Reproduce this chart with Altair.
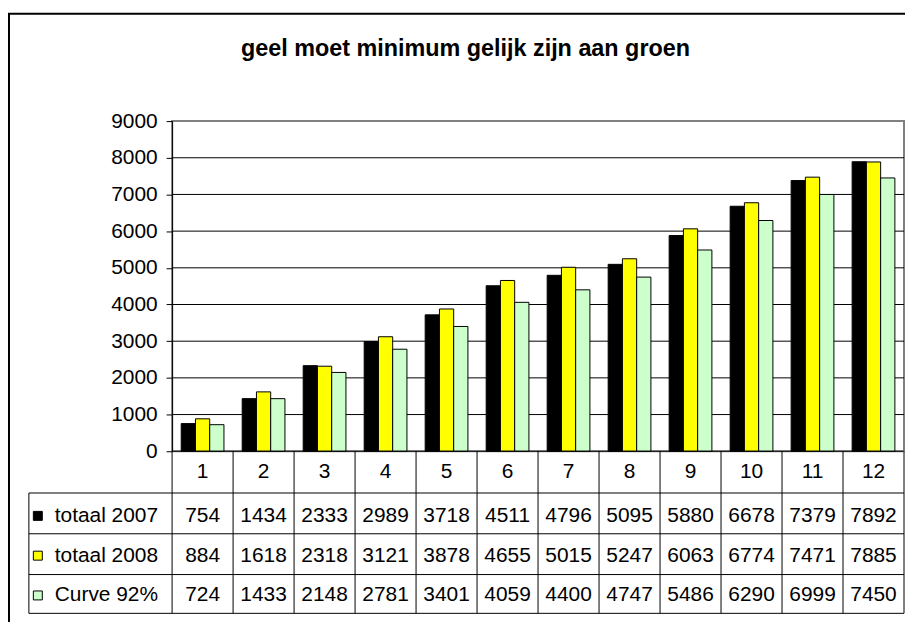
import altair as alt
import pandas as pd

# ---- data ----
categories = [1, 2, 3, 4, 5, 6, 7, 8, 9, 10, 11, 12]
series_names = ["totaal 2007", "totaal 2008", "Curve 92%"]
totaal_2007 = [754, 1434, 2333, 2989, 3718, 4511, 4796, 5095, 5880, 6678, 7379, 7892]
totaal_2008 = [884, 1618, 2318, 3121, 3878, 4655, 5015, 5247, 6063, 6774, 7471, 7885]
curve_92 = [724, 1433, 2148, 2781, 3401, 4059, 4400, 4747, 5486, 6290, 6999, 7450]
series_colors = ["#000000", "#FFFF00", "#CCFFCC"]
y_ticks = [0, 1000, 2000, 3000, 4000, 5000, 6000, 7000, 8000, 9000]
grid_values = [1000, 2000, 3000, 4000, 5000, 6000, 7000, 8000]
title_text = "geel moet minimum gelijk zijn aan groen"

values_by_series = [totaal_2007, totaal_2008, curve_92]
rows = []
for s, vals in zip(series_names, values_by_series):
    for c, v in zip(categories, vals):
        rows.append({"cat": c, "series": s, "value": v})
df = pd.DataFrame(rows)
cat_df = pd.DataFrame({"cat": categories})
grid_df = pd.DataFrame({"value": grid_values})
one = pd.DataFrame({"a": [0]})

FONT = "Liberation Sans"
W, H = 736, 332

xscale = alt.Scale(domain=categories, paddingInner=0, paddingOuter=0)
yscale = alt.Scale(domain=[0, 9000], nice=False, zero=True)
yaxis = alt.Axis(values=y_ticks, title=None, grid=False, format="d", labelFont=FONT,
                 labelFontSize=21, labelColor="black", labelPadding=9,
                 tickColor="black", tickSize=6, domainColor="black",
                 domainWidth=1, labelFlush=False, labelOverlap=False)
Y = alt.Y("value:Q", scale=yscale, axis=yaxis)
X = alt.X("cat:O", scale=xscale, axis=None)

frame = alt.Chart(one).mark_rect(filled=False, stroke="black", strokeWidth=2).encode(
    x=alt.value(-164), x2=alt.value(780), y=alt.value(-108), y2=alt.value(600)
)

title = alt.Chart(one).mark_text(
    text=title_text, font=FONT, fontSize=23.5, fontWeight="bold", color="black",
    align="center", baseline="alphabetic"
).encode(x=alt.value(295), y=alt.value(-65))

grid = alt.Chart(grid_df).mark_rule(color="black", strokeWidth=1).encode(y=Y)

bars = alt.Chart(df).mark_bar(stroke="black", strokeWidth=1).encode(
    x=X,
    xOffset=alt.XOffset("series:N", sort=series_names,
                        scale=alt.Scale(domain=series_names, paddingOuter=0.64, paddingInner=0)),
    y=Y,
    color=alt.Color("series:N", sort=series_names,
                    scale=alt.Scale(domain=series_names, range=series_colors), legend=None),
)

zero_line = alt.Chart(one).mark_rule(color="black", strokeWidth=1).encode(
    x=alt.value(0), x2=alt.value(W), y=alt.value(H)
)

vlines = alt.Chart(cat_df).mark_rule(color="black", strokeWidth=1).encode(
    x=alt.X("cat:O", scale=xscale, axis=None, bandPosition=0),
    y=alt.value(H), y2=alt.value(495),
)
right_line = alt.Chart(one).mark_rule(color="#555555", strokeWidth=1.5).encode(
    x=alt.value(W), y=alt.value(H), y2=alt.value(495)
)
left_line = alt.Chart(one).mark_rule(color="black", strokeWidth=1).encode(
    x=alt.value(-144), y=alt.value(374), y2=alt.value(495)
)

hlines = []
for yy in [374, 415, 456, 495]:
    hlines.append(alt.Chart(one).mark_rule(color="black", strokeWidth=1).encode(
        x=alt.value(-144), x2=alt.value(W), y=alt.value(yy)))

header = alt.Chart(cat_df).mark_text(font=FONT, fontSize=21, color="black",
                                     baseline="middle").encode(
    x=X, y=alt.value(353), text="cat:O"
)

row_layers = []
row_y = [397, 437, 477]
for i, s in enumerate(series_names):
    row_layers.append(
        alt.Chart(df).transform_filter(alt.datum.series == s).mark_text(
            font=FONT, fontSize=21, color="black", baseline="middle"
        ).encode(x=X, y=alt.value(row_y[i]), text="value:Q")
    )
    row_layers.append(
        alt.Chart(one).mark_text(text=s, font=FONT, fontSize=21, color="black",
                                 align="left", baseline="middle").encode(
            x=alt.value(-118), y=alt.value(row_y[i]))
    )
    row_layers.append(
        alt.Chart(one).mark_square(size=81, color=series_colors[i], stroke="black",
                                   strokeWidth=1, opacity=1, filled=True).encode(
            x=alt.value(-135), y=alt.value(row_y[i]))
    )

chart = alt.layer(
    frame, title, grid, bars, zero_line, vlines, right_line, left_line,
    *hlines, header, *row_layers
).properties(
    width=W, height=H,
    padding={"left": 165, "top": 112, "right": 1, "bottom": 170},
    autosize=alt.AutoSizeParams(type="none"),
    background="white",
).configure_view(stroke="#808080", strokeWidth=2)

chart.save("out.html", embed_options={"renderer": "svg", "actions": False})
